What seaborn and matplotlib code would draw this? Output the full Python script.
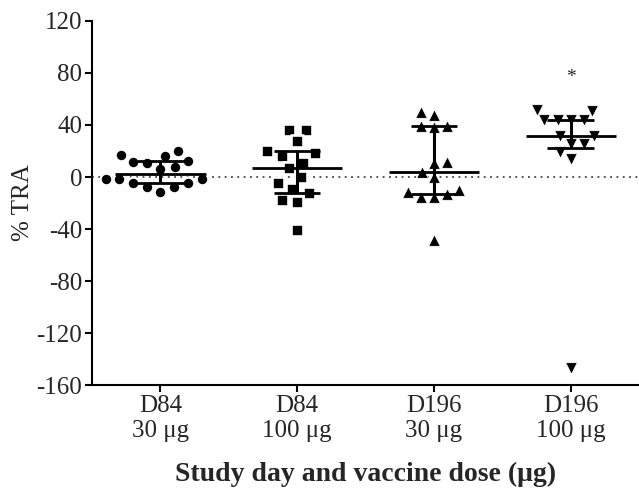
import numpy as np
import pandas as pd
import matplotlib.pyplot as plt
import seaborn as sns

# values (% TRA per subject)
groups = ['D84\n30 μg', 'D84\n100 μg', 'D196\n30 μg', 'D196\n100 μg']
d84_30 = [17.2, 12.6, 8.0, 10.8, 11.3, 16.4, 20.2, 6.2,
          -4.5, -7.4, -11.7, -7.4, -4.5, -1.5, -1.5, -1.5]
d84_100 = [36.4, 36.4, 27.4, 18.2, 19.7, 16.4, 10.8, 7.0,
           -0.2, -4.8, -12.5, -9.1, -17.6, -19.4, -41.1]
d196_30 = [49.7, 47.9, 38.9, 38.2, 39.4, 10.5, 11.3, 3.6,
           0.3, -11.7, -15.0, -15.6, -13.0, -9.9, -48.3]
d196_100 = [51.3, 50.8, 43.6, 43.6, 43.6, 43.6, 31.3, 31.3,
            25.7, 25.7, 19.2, 14.1, -147.0]
markers = ['o', 's', '^', 'v']
star_y = 80.8

series = [d84_30, d84_100, d196_30, d196_100]
df = pd.concat([pd.DataFrame({'group': g, 'tra': v}) for g, v in zip(groups, series)],
               ignore_index=True)

sns.set_style('ticks')
plt.rcParams['font.family'] = ['Liberation Serif', 'DejaVu Serif']
plt.rcParams['axes.unicode_minus'] = False

fig = plt.figure(figsize=(6.39, 4.97), dpi=100)
ax = fig.add_axes([0.144, 0.225, 0.856, 0.733])

ax.axhline(0, color='#444444', lw=1.3, ls=(0, (1, 2.5)), zorder=0)

# white edge keeps the swarm spacing a bit wider than the visible marker
edge = {'o': 1.6, 's': 1.9, '^': 0.6, 'v': 0.6}
for g, m in zip(groups, markers):
    sns.swarmplot(data=df[df['group'] == g], x='group', y='tra', order=groups,
                  marker=m, color='black', size=8.4, linewidth=edge[m],
                  edgecolor='white', ax=ax, zorder=3)

# median with interquartile range
for i, v in enumerate(series):
    q1, med, q3 = np.percentile(v, [25, 50, 75], method='weibull')
    ax.hlines(med, i - 0.33, i + 0.33, color='black', lw=2, zorder=4)
    ax.hlines([q1, q3], i - 0.17, i + 0.17, color='black', lw=2, zorder=4)
    ax.vlines(i, q1, q3, color='black', lw=2.2, zorder=4)

ax.annotate('*', (3, star_y), xytext=(0, -4), textcoords='offset points',
            ha='center', va='center', fontsize=14)

ax.set_xlim(-0.5, 3.5)
ax.set_ylim(-160, 120)
ax.set_yticks(np.arange(-160, 121, 40))
ax.set_xlabel('Study day and vaccine dose (μg)', fontsize=20, fontweight='bold', labelpad=14)
ax.set_ylabel('% TRA', fontsize=18, labelpad=2)
ax.tick_params(axis='both', labelsize=18, length=5, width=1.5, color='black', pad=2)
for s in ['left', 'bottom']:
    ax.spines[s].set_linewidth(1.5)
    ax.spines[s].set_color('black')
sns.despine(ax=ax)

fig.savefig('out.png', dpi=100)
